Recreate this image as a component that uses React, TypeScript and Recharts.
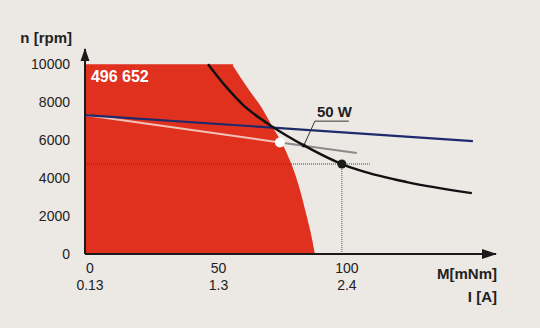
import React from 'react';
import { ComposedChart, Area, Line, XAxis, YAxis, ReferenceLine, ReferenceDot } from 'recharts';

// ---- data ----
const torqueTicks = [0, 50, 100];
const currentLabels = ['0.13', '1.3', '2.4'];
const speedTicks = [0, 2000, 4000, 6000, 8000, 10000];

// red operating range (torque mNm, speed rpm): flat top part
const operatingRangeTop = [
  { m: 0, n: 10000 },
  { m: 57.6, n: 10000 },
];
// red operating range: curved limit
const operatingRangeLimit = [
  { m: 57.2, n: 10000 },
  { m: 64.2, n: 8580 },
  { m: 68.9, n: 7680 },
  { m: 72.8, n: 6740 },
  { m: 76.7, n: 5840 },
  { m: 80.2, n: 4790 },
  { m: 82.9, n: 3740 },
  { m: 86.4, n: 1950 },
  { m: 87.9, n: 1100 },
  { m: 89.5, n: 0 },
];

// black speed/torque curve
const speedCurve = [
  { m: 47.9, n: 10000 },
  { m: 55.3, n: 8750 },
  { m: 61.5, n: 7860 },
  { m: 68.1, n: 7150 },
  { m: 72.8, n: 6720 },
  { m: 78.6, n: 6230 },
  { m: 85.2, n: 5720 },
  { m: 100, n: 4740 },
  { m: 107, n: 4410 },
  { m: 125.3, n: 3790 },
  { m: 150.6, n: 3210 },
];

// blue line
const blueLine = [
  { m: 0, n: 7320 },
  { m: 151, n: 5950 },
];

// grey line (light part in red zone, darker part outside)
const greyLineInner = [
  { m: 0, n: 7320 },
  { m: 75.9, n: 5880 },
];
const greyLineOuter = [
  { m: 75.9, n: 5880 },
  { m: 105.8, n: 5320 },
];

// 50 W leader line
const leaderLine = [
  { m: 85.2, n: 5720 },
  { m: 89.5, n: 7000 },
  { m: 102.7, n: 7000 },
];

const operatingPoint = { m: 100, n: 4740 };
const whitePoint = { m: 75.9, n: 5880 };
const powerPoint = { m: 85.2, n: 5720 };
const dottedEnd = 110.9;

const FONT = '"Liberation Sans", Arial, Helvetica, sans-serif';
const RED = '#e0311f';
const BG = '#ece8e4';
const INK = '#1a1a1a';

const XTick = (props: any) => {
  const { x, y, payload } = props;
  const i = torqueTicks.indexOf(payload.value);
  return (
    <g>
      <text x={x + 5} y={y} dy={11} textAnchor="middle" fontSize={14} fill="#222" fontFamily={FONT}>
        {payload.value}
      </text>
      <text x={x + 5} y={y} dy={28} textAnchor="middle" fontSize={14} fill="#222" fontFamily={FONT}>
        {currentLabels[i]}
      </text>
    </g>
  );
};

const App = () => (
  <div style={{ position: 'absolute', left: 0, top: 0, width: 540, height: 328, background: BG, fontFamily: FONT }}>
    <ComposedChart width={540} height={328} margin={{ top: 49, right: 44, bottom: 0, left: 0 }}>
      <XAxis
        type="number"
        dataKey="m"
        domain={[0, 160]}
        ticks={torqueTicks}
        tick={<XTick />}
        tickLine={false}
        axisLine={{ stroke: INK, strokeWidth: 2 }}
        height={74}
        allowDataOverflow
        label={{
          content: (p: any) => {
            const vb = p.viewBox || { x: 85, y: 254, width: 411 };
            const xr = vb.x + vb.width + 1;
            return (
              <g>
                <text x={xr} y={vb.y + 19} dominantBaseline="central" textAnchor="end" fontSize={15} fontWeight="bold" fill="#222" fontFamily={FONT}>
                  M[mNm]
                </text>
                <text x={xr} y={vb.y + 42} dominantBaseline="central" textAnchor="end" fontSize={15} fontWeight="bold" fill="#222" fontFamily={FONT}>
                  I [A]
                </text>
              </g>
            );
          },
        }}
      />
      <YAxis
        type="number"
        domain={[0, 10800]}
        ticks={speedTicks}
        width={85}
        tickLine={false}
        tickMargin={9}
        tick={{ fontSize: 14, fill: '#222', fontFamily: FONT }}
        axisLine={{ stroke: INK, strokeWidth: 2 }}
        allowDataOverflow
        label={{
          content: (p: any) => {
            const vb = p.viewBox || { x: 0, y: 49, width: 85 };
            return (
              <text x={vb.x + vb.width - 13} y={vb.y - 12} dominantBaseline="central" textAnchor="end" fontSize={15} fontWeight="bold" fill="#222" fontFamily={FONT}>
                n [rpm]
              </text>
            );
          },
        }}
      />
      <Area data={operatingRangeTop} dataKey="n" type="linear" fill={RED} fillOpacity={1} stroke="none" isAnimationActive={false} />
      <Area data={operatingRangeLimit} dataKey="n" type="monotone" fill={RED} fillOpacity={1} stroke="none" isAnimationActive={false} />
      <ReferenceLine
        segment={[{ x: 0, y: operatingPoint.n }, { x: dottedEnd, y: operatingPoint.n }]}
        stroke="#4a3a36"
        strokeWidth={1}
        strokeDasharray="1 1"
        ifOverflow="visible"
      />
      <ReferenceLine
        segment={[{ x: operatingPoint.m, y: 0 }, { x: operatingPoint.m, y: operatingPoint.n }]}
        stroke="#555"
        strokeWidth={1}
        strokeDasharray="1 1"
        ifOverflow="visible"
      />
      <Line data={greyLineInner} dataKey="n" type="linear" stroke="#efc3b9" strokeWidth={2} dot={false} activeDot={false} isAnimationActive={false} />
      <Line data={greyLineOuter} dataKey="n" type="linear" stroke="#8a8a8a" strokeWidth={2} dot={false} activeDot={false} isAnimationActive={false} />
      <Line data={blueLine} dataKey="n" type="linear" stroke="#1d2a6b" strokeWidth={2.2} dot={false} activeDot={false} isAnimationActive={false} />
      <Line data={speedCurve} dataKey="n" type="monotone" stroke="#111" strokeWidth={2.4} dot={false} activeDot={false} isAnimationActive={false} />
      <Line data={leaderLine} dataKey="n" type="linear" stroke="#333" strokeWidth={1} dot={false} activeDot={false} isAnimationActive={false} />
      <ReferenceDot x={whitePoint.m} y={whitePoint.n} r={5} fill="#fff" stroke="none" ifOverflow="visible" />
      <ReferenceDot x={operatingPoint.m} y={operatingPoint.n} r={4.5} fill="#1a1a1a" stroke="none" ifOverflow="visible" />
      <ReferenceDot x={powerPoint.m} y={powerPoint.n} r={2} fill="#111" stroke="none" ifOverflow="visible" />
      <ReferenceDot
        x={90.3}
        y={7530}
        ifOverflow="visible"
        shape={(p: any) => (
          <text x={p.cx} y={p.cy} dominantBaseline="central" textAnchor="start" fontSize={15} fontWeight="bold" fill="#222" fontFamily={FONT}>
            50 W
          </text>
        )}
      />
      <ReferenceDot
        x={2.3}
        y={9370}
        ifOverflow="visible"
        shape={(p: any) => (
          <text x={p.cx} y={p.cy} dominantBaseline="central" textAnchor="start" fontSize={16} fontWeight="bold" fill="#fff" fontFamily={FONT}>
            496 652
          </text>
        )}
      />
      {/* axis arrowheads */}
      <ReferenceDot
        x={160}
        y={0}
        ifOverflow="visible"
        shape={(p: any) => (
          <path d={`M${p.cx + 1},${p.cy} L${p.cx - 14},${p.cy - 5} L${p.cx - 14},${p.cy + 5} Z`} fill={INK} />
        )}
      />
      <ReferenceDot
        x={0}
        y={10800}
        ifOverflow="visible"
        shape={(p: any) => (
          <path d={`M${p.cx},${p.cy - 1} L${p.cx - 4.5},${p.cy + 12} L${p.cx + 4.5},${p.cy + 12} Z`} fill={INK} />
        )}
      />
    </ComposedChart>
  </div>
);

export default App;
